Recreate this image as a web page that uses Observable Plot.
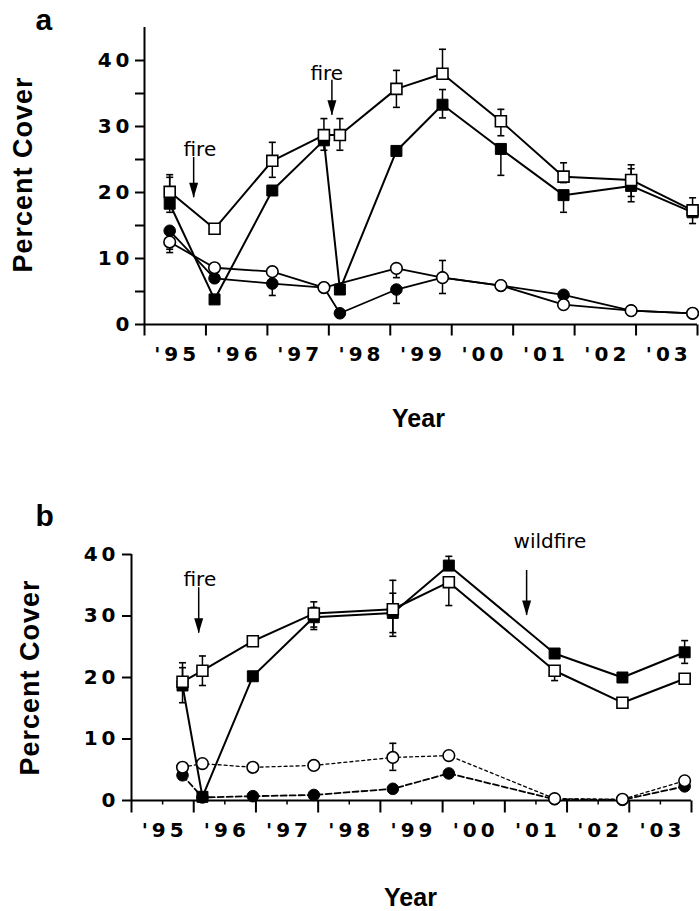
<!DOCTYPE html>
<html><head><meta charset="utf-8">
<script src="https://cdn.jsdelivr.net/npm/d3@7"></script>
<script src="https://cdn.jsdelivr.net/npm/@observablehq/plot@0.6"></script>
<style>
html,body{margin:0;padding:0;background:#fff;overflow:hidden;}
#a,#b{width:699px;}
svg{display:block;overflow:visible}
</style></head><body>
<div id="a"></div><div id="b"></div>
<script>
// ---------- shared tick data ----------
const xTickYears = [1995, 1996, 1997, 1998, 1999, 2000, 2001, 2002, 2003, 2004];
const xLabelYears = [1995, 1996, 1997, 1998, 1999, 2000, 2001, 2002, 2003];
const xLabels = ["'95", "'96", "'97", "'98", "'99", "'00", "'01", "'02", "'03"];
const yLabels = [0, 10, 20, 30, 40];
const aYMinor = [5, 15, 25, 35];

// ---------- panel a ----------
const aX = [1995.41, 1996.14, 1997.08, 1997.92, 1998.18, 1999.10, 1999.85, 2000.80, 2001.82, 2002.92, 2003.92];
const aOpenSq   = [20.1, 14.5, 24.8, 28.7, 28.7, 35.7, 38.0, 30.8, 22.4, 21.9, 17.3];
const aOpenSqHi = [22.7, null, 27.6, 31.2, 31.2, 38.5, 41.7, 32.6, 24.5, 24.2, 19.2];
const aOpenSqLo = [null, null, 22.3, 26.4, 26.4, 32.9, null, 28.6, 21.5, 19.4, null];
const aFillSq   = [18.3, 3.8, 20.3, 27.9, 5.3, 26.3, 33.3, 26.6, 19.6, 21.0, 17.0];
const aFillSqHi = [22.3, null, null, null, null, null, 35.6, null, null, 23.6, null];
const aFillSqLo = [17.0, null, null, null, null, null, 31.3, 22.6, 17.0, 18.6, 15.3];
const aOpenCiX  = [1995.41, 1996.14, 1997.08, 1997.92, 1999.10, 1999.85, 2000.80, 2001.82, 2002.92, 2003.92];
const aOpenCi   = [12.5, 8.6, 8.0, 5.6, 8.5, 7.1, 5.9, 3.0, 2.1, 1.7];
const aOpenCiHi = [null, null, null, null, null, 9.7, null, null, null, null];
const aOpenCiLo = [10.9, null, null, null, 7.1, 4.7, null, null, null, null];
const aFillCi   = [14.2, 7.0, 6.2, 5.6, 1.7, 5.3, 7.1, 5.9, 4.5, 2.1, 1.7];
const aFillCiLo = [11.4, null, 4.4, null, null, 3.2, null, null, null, null, null];
const aFire1 = {x: 1995.80, top: 25.3, tip: 19.2, textX: 1995.635, textY: 25.5, label: "fire"};
const aFire2 = {x: 1998.05, top: 37.0, tip: 31.7, textX: 1997.70, textY: 37.1, label: "fire"};

// ---------- panel b ----------
const bX = [1995.82, 1996.14, 1996.95, 1997.93, 1999.20, 2000.10, 2001.80, 2002.89, 2003.89];
const bOpenSq   = [19.3, 21.1, 25.9, 30.4, 31.1, 35.5, 21.1, 15.9, 19.8];
const bOpenSqHi = [22.4, 23.5, null, 32.3, 35.8, null, null, null, null];
const bOpenSqLo = [null, 18.7, null, 28.2, 27.3, 31.7, 19.5, null, null];
const bFillSq   = [18.7, 0.6, 20.2, 29.8, 30.5, 38.2, 23.9, 20.0, 24.1];
const bFillSqHi = [21.6, null, null, 31.4, 33.7, 39.7, null, null, 26.0];
const bFillSqLo = [15.9, null, null, 27.8, 26.7, null, null, null, 22.3];
const bOpenCi   = [5.4, 6.0, 5.4, 5.7, 7.0, 7.3, 0.3, 0.2, 3.2];
const bOpenCiHi = [null, null, null, null, 9.3, null, null, null, null];
const bOpenCiLo = [null, null, null, null, 4.9, null, null, null, null];
const bFillCi   = [4.1, 0.5, 0.7, 0.9, 1.9, 4.4, 0.2, 0.1, 2.3];
const bFire1 = {x: 1996.08, top: 34.6, tip: 27.2, textX: 1995.836, textY: 34.9, label: "fire"};
const bFire2 = {x: 2001.35, top: 37.4, tip: 30.1, textX: 2001.14, textY: 41.0, label: "wildfire"};

// ---------- helpers ----------
const rows = (xs, ys) => xs.map((x, i) => ({x, y: ys[i]}));
function errRows(xs, ys, hi, lo) {
  const out = [];
  xs.forEach((x, i) => {
    if (hi && hi[i] != null) out.push({x, y: ys[i], c: hi[i]});
    if (lo && lo[i] != null) out.push({x, y: ys[i], c: lo[i]});
  });
  return out;
}
const capSym = {draw(ctx) { ctx.moveTo(-3.5, 0); ctx.lineTo(3.5, 0); }};
const yTickSym = {draw(ctx) { ctx.moveTo(-9.5, 0); ctx.lineTo(0, 0); }};
const xTickSym = len => ({draw(ctx) { ctx.moveTo(0, 0); ctx.lineTo(0, len); }});
const headSym = {draw(ctx) { ctx.moveTo(-4.5, -15); ctx.lineTo(4.5, -15); ctx.lineTo(0, 0); ctx.closePath(); }};

const BOLD = "Liberation Sans, Arial, Helvetica, sans-serif";
const TICKF = "DejaVu Sans, Verdana, sans-serif";

function errMarks(er) {
  return [
    Plot.ruleX(er, {x: "x", y1: "y", y2: "c", stroke: "black", strokeWidth: 1.5}),
    Plot.dot(er, {x: "x", y: "c", symbol: capSym, fill: "none", stroke: "black", strokeWidth: 1.6})
  ];
}
function arrowMarks(a) {
  return [
    Plot.ruleX([a], {x: "x", y1: "top", y2: "tip", stroke: "black", strokeWidth: 1.5}),
    Plot.dot([a], {x: "x", y: "tip", symbol: headSym, fill: "black", stroke: "none"}),
    Plot.text([a], {x: "textX", y: "textY", text: "label", textAnchor: "start", lineAnchor: "bottom",
      fontFamily: TICKF, fontSize: 20, fill: "black"})
  ];
}
function styleTexts(svg) {
  d3.select(svg).selectAll("text").each(function () {
    const t = this.textContent;
    if (/^['0-9]/.test(t)) this.setAttribute("letter-spacing", "4");
    else if (t === "Percent Cover") this.setAttribute("letter-spacing", "1");
  });
  return svg;
}
function seriesMarks(xs, fillSq, openSq, fillCi, openCi, xsOpenCi, dashed) {
  const r = [];
  r.push(Plot.line(rows(xs, fillCi), {x: "x", y: "y", stroke: "black", strokeWidth: 1.8,
    strokeDasharray: dashed ? "6,3" : null}));
  r.push(Plot.line(rows(xsOpenCi, openCi), {x: "x", y: "y", stroke: "black", strokeWidth: dashed ? 1.3 : 1.8,
    strokeDasharray: dashed ? "3,3" : null}));
  r.push(Plot.line(rows(xs, fillSq), {x: "x", y: "y", stroke: "black", strokeWidth: 2}));
  r.push(Plot.line(rows(xs, openSq), {x: "x", y: "y", stroke: "black", strokeWidth: 2}));
  r.push(Plot.dot(rows(xs, fillCi), {x: "x", y: "y", r: 5.8, fill: "black", stroke: "black", strokeWidth: 1}));
  r.push(Plot.dot(rows(xsOpenCi, openCi), {x: "x", y: "y", r: 5.8, fill: "white", stroke: "black", strokeWidth: 1.6}));
  r.push(Plot.dot(rows(xs, fillSq), {x: "x", y: "y", symbol: "square", r: 6.2, fill: "black", stroke: "black", strokeWidth: 1}));
  r.push(Plot.dot(rows(xs, openSq), {x: "x", y: "y", symbol: "square", r: 6.2, fill: "white", stroke: "black", strokeWidth: 1.6}));
  return r;
}

// ---------- panel a plot ----------
const plotA = Plot.plot({
  width: 699, height: 460,
  marginLeft: 144, marginRight: 2, marginTop: 27, marginBottom: 136,
  x: {domain: [1995, 2004], axis: null},
  y: {domain: [0, 45], axis: null},
  style: {background: "white", overflow: "visible"},
  marks: [
    Plot.ruleX([1995], {y1: 0, y2: 45, stroke: "black", strokeWidth: 2}),
    Plot.ruleY([0], {x1: 1995, x2: 2004, stroke: "black", strokeWidth: 2}),
    Plot.dot(yLabels.concat(aYMinor), {x: 1995, y: d => d, symbol: yTickSym, fill: "none", stroke: "black", strokeWidth: 2}),
    Plot.dot(xTickYears, {x: d => d, y: 0, symbol: xTickSym(11), fill: "none", stroke: "black", strokeWidth: 2}),
    Plot.text(yLabels, {x: 1995, y: d => d, text: d => String(d), dx: -11, textAnchor: "end",
      fontFamily: TICKF, fontWeight: "bold", fontSize: 20, fill: "black"}),
    Plot.text(xLabelYears, {x: d => d + 0.5, y: 0, text: (d, i) => xLabels[i], dy: 36, dx: 2, lineAnchor: "bottom",
      fontFamily: TICKF, fontWeight: "bold", fontSize: 20, fill: "black"}),
    Plot.text(["Year"], {frameAnchor: "bottom", dy: 102, dx: -2.5, lineAnchor: "bottom", textAnchor: "middle",
      fontFamily: BOLD, fontWeight: "bold", fontSize: 25, fill: "black"}),
    Plot.text(["Percent Cover"], {frameAnchor: "left", dx: -113, dy: -1.5, rotate: -90, lineAnchor: "bottom", textAnchor: "middle",
      fontFamily: BOLD, fontWeight: "bold", fontSize: 27, fill: "black"}),
    Plot.text(["a"], {frameAnchor: "top-left", dx: -109, dy: 2, textAnchor: "start", lineAnchor: "bottom",
      fontFamily: BOLD, fontWeight: "bold", fontSize: 30, fill: "black"}),
    ...errMarks(errRows(aX, aOpenSq, aOpenSqHi, aOpenSqLo)),
    ...errMarks(errRows(aX, aFillSq, aFillSqHi, aFillSqLo)),
    ...errMarks(errRows(aOpenCiX, aOpenCi, aOpenCiHi, aOpenCiLo)),
    ...errMarks(errRows(aX, aFillCi, null, aFillCiLo)),
    ...seriesMarks(aX, aFillSq, aOpenSq, aFillCi, aOpenCi, aOpenCiX, false),
    ...arrowMarks(aFire1),
    ...arrowMarks(aFire2)
  ]
});
document.getElementById("a").appendChild(styleTexts(plotA));

// ---------- panel b plot ----------
const plotB = Plot.plot({
  width: 699, height: 451,
  marginLeft: 131, marginRight: 8, marginTop: 94, marginBottom: 111,
  x: {domain: [1995, 2004], axis: null},
  y: {domain: [0, 40], axis: null},
  style: {background: "white", overflow: "visible"},
  marks: [
    Plot.ruleX([1995], {y1: 0, y2: 40, stroke: "black", strokeWidth: 2}),
    Plot.ruleY([0], {x1: 1995, x2: 2004, stroke: "black", strokeWidth: 2}),
    Plot.dot(yLabels, {x: 1995, y: d => d, symbol: yTickSym, fill: "none", stroke: "black", strokeWidth: 2}),
    Plot.dot(xTickYears, {x: d => d, y: 0, symbol: xTickSym(12), fill: "none", stroke: "black", strokeWidth: 2}),
    Plot.dot(xLabelYears, {x: d => d + 0.5, y: 0, symbol: xTickSym(4), fill: "none", stroke: "black", strokeWidth: 1.5}),
    Plot.text(yLabels, {x: 1995, y: d => d, text: d => String(d), dx: -12, textAnchor: "end",
      fontFamily: TICKF, fontWeight: "bold", fontSize: 20, fill: "black"}),
    Plot.text(xLabelYears, {x: d => d + 0.5, y: 0, text: (d, i) => xLabels[i], dy: 36, dx: 2, lineAnchor: "bottom",
      fontFamily: TICKF, fontWeight: "bold", fontSize: 20, fill: "black"}),
    Plot.text(["Year"], {frameAnchor: "bottom", dy: 105, dx: -1, lineAnchor: "bottom", textAnchor: "middle",
      fontFamily: BOLD, fontWeight: "bold", fontSize: 25, fill: "black"}),
    Plot.text(["Percent Cover"], {frameAnchor: "left", dx: -93, dy: 0, rotate: -90, lineAnchor: "bottom", textAnchor: "middle",
      fontFamily: BOLD, fontWeight: "bold", fontSize: 27, fill: "black"}),
    Plot.text(["b"], {frameAnchor: "top-left", dx: -96, dy: -29, textAnchor: "start", lineAnchor: "bottom",
      fontFamily: BOLD, fontWeight: "bold", fontSize: 30, fill: "black"}),
    ...errMarks(errRows(bX, bOpenSq, bOpenSqHi, bOpenSqLo)),
    ...errMarks(errRows(bX, bFillSq, bFillSqHi, bFillSqLo)),
    ...errMarks(errRows(bX, bOpenCi, bOpenCiHi, bOpenCiLo)),
    ...seriesMarks(bX, bFillSq, bOpenSq, bFillCi, bOpenCi, bX, true),
    ...arrowMarks(bFire1),
    ...arrowMarks(bFire2)
  ]
});
document.getElementById("b").appendChild(styleTexts(plotB));
</script></body></html>
